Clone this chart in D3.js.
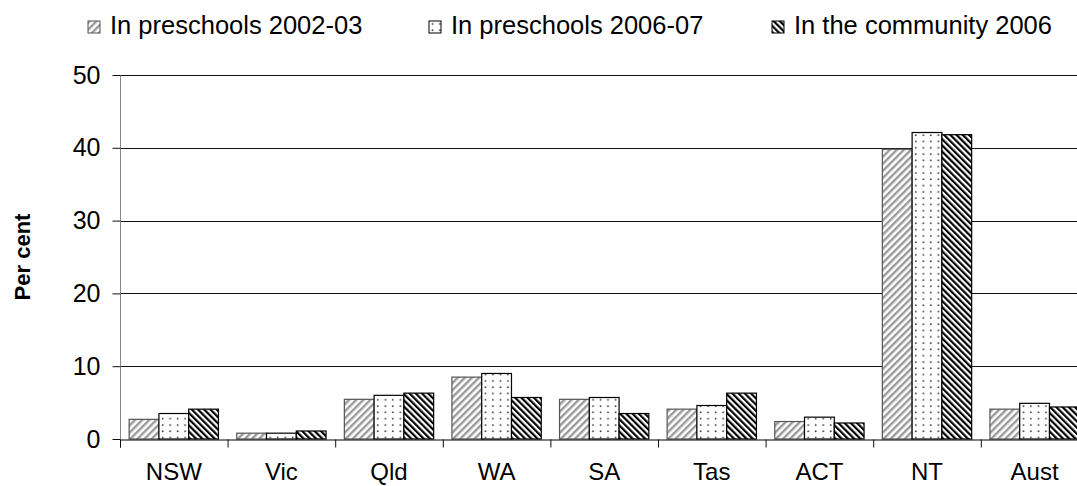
<!DOCTYPE html>
<html>
<head>
<meta charset="utf-8">
<script src="https://cdn.jsdelivr.net/npm/d3@7"></script>
<style>
  body { margin: 0; background: #fff; }
  svg { display: block; font-family: "Liberation Sans", Arial, sans-serif; }
</style>
</head>
<body>
<div id="chart"></div>
<script>
// Data
var categories = ["NSW", "Vic", "Qld", "WA", "SA", "Tas", "ACT", "NT", "Aust"];
var seriesNames = ["In preschools 2002-03", "In preschools 2006-07", "In the community 2006"];
var pre0203 = [2.7, 0.8, 5.45, 8.5, 5.45, 4.1, 2.4, 39.8, 4.1];
var pre0607 = [3.5, 0.8, 6.0, 9.0, 5.7, 4.6, 3.0, 42.1, 4.9];
var comm2006 = [4.1, 1.1, 6.3, 5.7, 3.5, 6.3, 2.2, 41.8, 4.4];
var yTicks = [0, 10, 20, 30, 40, 50];

var svgWidth = 1077;
var svgHeight = 486;

var plotLeft = 120;
var plotTop = 75;
var plotBottom = 439;
var step = 107.6;
var plotRight = plotLeft + step * categories.length;

var svg = d3.select("#chart")
  .append("svg")
  .attr("width", svgWidth)
  .attr("height", svgHeight);

// Fill patterns
var defs = svg.append("defs");

var p1 = defs.append("pattern")
  .attr("id", "pat0")
  .attr("patternUnits", "userSpaceOnUse")
  .attr("width", 5).attr("height", 5)
  .attr("patternTransform", "rotate(45)");
p1.append("rect").attr("width", 5).attr("height", 5).attr("fill", "#fff");
p1.append("line").attr("x1", 1.2).attr("y1", 0).attr("x2", 1.2).attr("y2", 5)
  .attr("stroke", "#9a9a9a").attr("stroke-width", 2.4);

var p2 = defs.append("pattern")
  .attr("id", "pat1")
  .attr("patternUnits", "userSpaceOnUse")
  .attr("width", 7.5).attr("height", 6.3);
p2.append("rect").attr("width", 7.5).attr("height", 6.3).attr("fill", "#fff");
p2.append("circle").attr("cx", 3.5).attr("cy", 3).attr("r", 0.9).attr("fill", "#333");

var p3 = defs.append("pattern")
  .attr("id", "pat2")
  .attr("patternUnits", "userSpaceOnUse")
  .attr("width", 4.4).attr("height", 4.4)
  .attr("patternTransform", "rotate(-45)");
p3.append("rect").attr("width", 4.4).attr("height", 4.4).attr("fill", "#fff");
p3.append("line").attr("x1", 1.1).attr("y1", 0).attr("x2", 1.1).attr("y2", 4.4)
  .attr("stroke", "#000").attr("stroke-width", 2.2);

var strokes = ["#555", "#000", "#000"];

// Scales
var x0 = d3.scaleBand()
  .domain(categories)
  .range([plotLeft, plotRight])
  .paddingInner(0.17)
  .paddingOuter(0.085);

var x1 = d3.scaleBand()
  .domain(d3.range(seriesNames.length))
  .range([0, x0.bandwidth()]);

var y = d3.scaleLinear()
  .domain([0, 50])
  .range([plotBottom, plotTop]);

// Gridlines
svg.append("g")
  .selectAll("line")
  .data(yTicks.filter(d => d > 0))
  .enter()
  .append("line")
  .attr("x1", plotLeft)
  .attr("x2", plotRight)
  .attr("y1", d => Math.round(y(d)) + 0.5)
  .attr("y2", d => Math.round(y(d)) + 0.5)
  .attr("stroke", "#111")
  .attr("stroke-width", 1);

// Bars
var rows = categories.map((c, i) => ({ cat: c, values: [pre0203[i], pre0607[i], comm2006[i]] }));

var groups = svg.append("g")
  .selectAll("g")
  .data(rows)
  .enter()
  .append("g")
  .attr("transform", d => `translate(${x0(d.cat)},0)`);

groups.selectAll("rect")
  .data(d => d.values.map((v, k) => ({ v: v, k: k })))
  .enter()
  .append("rect")
  .attr("x", d => x1(d.k))
  .attr("y", d => y(d.v))
  .attr("width", x1.bandwidth())
  .attr("height", d => y(0) - y(d.v))
  .attr("fill", d => `url(#pat${d.k})`)
  .attr("stroke", d => strokes[d.k])
  .attr("stroke-width", 1.2);

// Y axis
var leftAxis = d3.axisLeft(y)
  .tickValues(yTicks)
  .tickSize(8)
  .tickPadding(12)
  .tickFormat(d3.format("d"));

var yAxis = svg.append("g")
  .attr("transform", `translate(${plotLeft + 0.5},0)`)
  .call(leftAxis);
yAxis.select(".domain").attr("stroke", "#888").attr("d", `M0,${plotTop}V${plotBottom}`);
yAxis.selectAll(".tick line").attr("stroke", "#111");
yAxis.selectAll(".tick text")
  .attr("font-size", "25px")
  .attr("fill", "#000")
  .attr("font-family", "Liberation Sans, Arial, sans-serif");

// X axis: ticks between categories, labels centred
var xEdges = d3.scaleLinear().domain([0, categories.length]).range([plotLeft, plotRight]);
var bottomAxis = d3.axisBottom(xEdges)
  .tickValues(d3.range(categories.length + 1))
  .tickSize(8)
  .tickFormat("");

var xAxis = svg.append("g")
  .attr("transform", `translate(0,${plotBottom + 0.5})`)
  .call(bottomAxis);
xAxis.select(".domain").attr("stroke", "#000");
xAxis.selectAll(".tick line").attr("stroke", "#111");

svg.append("g")
  .selectAll("text")
  .data(categories)
  .enter()
  .append("text")
  .attr("x", d => x0(d) + x0.bandwidth() / 2)
  .attr("y", 480)
  .attr("text-anchor", "middle")
  .attr("font-size", "24px")
  .text(d => d);

// Y axis title
svg.append("text")
  .attr("transform", "translate(30,257) rotate(-90)")
  .attr("text-anchor", "middle")
  .attr("font-size", "22px")
  .attr("font-weight", "bold")
  .text("Per cent");

// Legend
var legendX = [88, 429, 772];
var legend = svg.append("g")
  .selectAll("g")
  .data(seriesNames)
  .enter()
  .append("g")
  .attr("transform", (d, i) => `translate(${legendX[i]},21)`);

legend.append("rect")
  .attr("width", 12)
  .attr("height", 12)
  .attr("fill", (d, i) => `url(#pat${i})`)
  .attr("stroke", (d, i) => strokes[i])
  .attr("stroke-width", 1);

legend.append("text")
  .attr("x", 22)
  .attr("y", 13)
  .attr("font-size", "25.5px")
  .text(d => d);
</script>
</body>
</html>
